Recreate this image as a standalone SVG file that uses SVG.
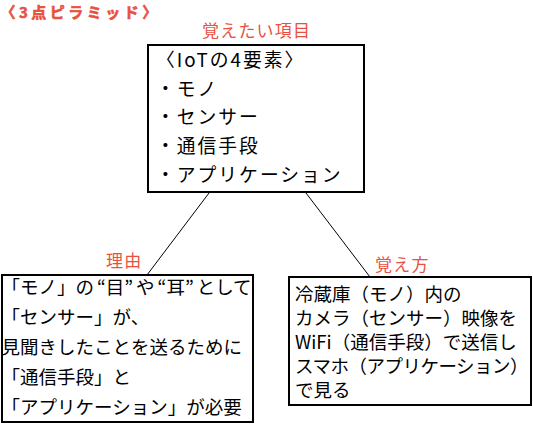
<svg xmlns="http://www.w3.org/2000/svg" width="533" height="425" viewBox="0 0 533 425">
<style>
.box{fill:#fff;stroke:#000;stroke-width:2}
.t{font-family:"Noto Sans CJK JP","Noto Sans",sans-serif;fill:#000}
.top{font-size:18.8px;letter-spacing:2px}
.body{font-size:18.5px}
.lab{font-family:"Noto Sans CJK JP","Noto Sans",sans-serif;font-size:17px;fill:#e8513f;letter-spacing:1.2px}
.title{font-family:"Noto Sans CJK JP","Noto Sans",sans-serif;font-size:15px;font-weight:bold;fill:#e8513f;letter-spacing:3.5px;stroke:#e8513f;stroke-width:0.6}
.conn{stroke:#000;stroke-width:1;fill:none}
</style>
<rect width="533" height="425" fill="#fff"/>
<text class="title" x="0.5" y="17.5">〈3点ピラミッド〉</text>
<g id="connectors">
<line class="conn" x1="209" y1="193" x2="147" y2="275"/>
<line class="conn" x1="306" y1="193" x2="370" y2="277"/>
</g>
<g id="node-top">
<rect class="box" x="148" y="45" width="216" height="147"/>
<text class="lab" x="202" y="37">覚えたい項目</text>
<text class="t top" x="156" y="67">〈IoTの4要素〉</text>
<text class="t top" x="156" y="95.7">・モノ</text>
<text class="t top" x="156" y="124.4">・センサー</text>
<text class="t top" x="156" y="153">・通信手段</text>
<text class="t top" x="156" y="181.7">・アプリケーション</text>
</g>
<g id="node-reason">
<rect class="box" x="2" y="275" width="251" height="147"/>
<text class="lab" x="106" y="267">理由</text>
<text class="t body" x="1.5" y="293.7">「モノ」の<tspan dx="3">“</tspan>目”<tspan dx="3">や</tspan><tspan dx="3">“</tspan>耳”<tspan dx="3">として</tspan></text>
<text class="t body" x="1.5" y="323.7">「センサー」が、</text>
<text class="t body" x="1.5" y="353.7">見聞きしたことを送るために</text>
<text class="t body" x="1.5" y="383.7">「通信手段」と</text>
<text class="t body" x="1.5" y="413.7">「アプリケーション」が必要</text>
</g>
<g id="node-howto">
<rect class="box" x="289" y="277" width="242" height="128"/>
<text class="lab" x="375" y="271">覚え方</text>
<text class="t body" x="295" y="300.7">冷蔵庫（モノ）内の</text>
<text class="t body" x="295" y="324.7">カメラ（センサー）映像を</text>
<text class="t body" x="295" y="348.7">WiFi（通信手段）で送信し</text>
<text class="t body" x="295" y="372.7" letter-spacing="-0.5">スマホ（アプリケーション）</text>
<text class="t body" x="295" y="396.7">で見る</text>
</g>
</svg>
